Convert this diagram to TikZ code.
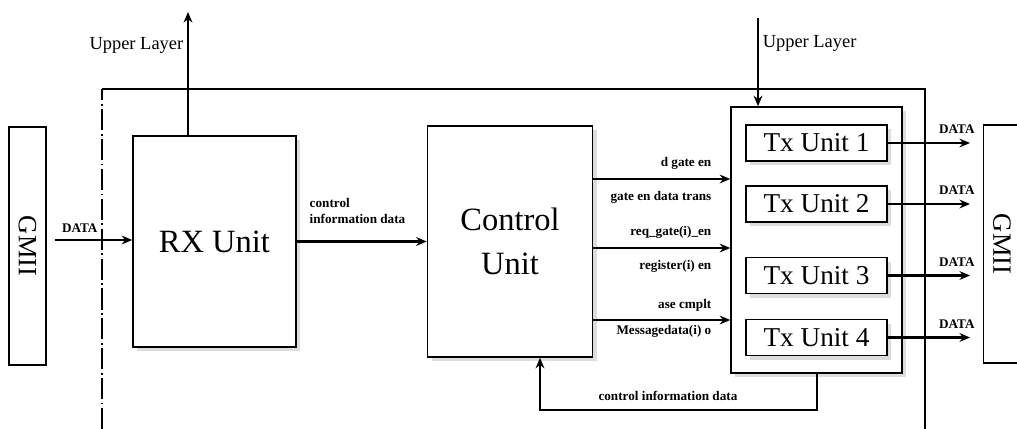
\documentclass[tikz,border=0pt]{standalone}
\usepackage{fontspec}
\setmainfont{Liberation Serif}
\usetikzlibrary{positioning,arrows.meta,shadows,calc}
\tikzset{
  unit box/.style={
    draw,
    line width=0.9pt,
    fill=white,
    drop shadow={shadow xshift=2.5pt, shadow yshift=-2.5pt, fill=gray!45, opacity=0.6}
  },
  big label/.style={
    align=center,
    font=\fontsize{18.5}{25}\selectfont
  },
  tx box/.style={
    unit box,
    minimum width=2.82cm,
    minimum height=0.72cm,
    inner sep=0pt,
    font=\fontsize{15.5}{17}\selectfont
  },
  gmii box/.style={
    draw,
    line width=0.9pt,
    rotate=-90,
    minimum width=4.76cm,
    minimum height=0.74cm,
    inner sep=0pt,
    font=\fontsize{15}{17}\selectfont
  },
  sig label/.style={
    font=\fontsize{7.5}{9}\selectfont\bfseries,
    inner sep=1.5pt
  },
  layer label/.style={
    font=\fontsize{10.5}{12}\selectfont,
    inner sep=2pt
  },
  arrow/.style={
    -{Stealth[length=6pt,width=5pt]},
    line width=1.4pt
  },
  frame line/.style={line width=0.6pt}
}

\begin{document}
\begin{tikzpicture}[x=0.02cm, y=-0.02cm]
  \useasboundingbox (0,0) rectangle (1017,429);

  % outer frame
  \draw[frame line, dash pattern=on 12pt off 2pt on 1pt off 2pt] (102,429) -- (102,89);
  \draw[frame line] (102,89) -- (925,89) -- (925,429);

  % GMII on both sides
  \node[gmii box] (gmiiL) at (27.5,246) {GMII};
  \node[gmii box] (gmiiR) at (1002,244) {GMII};

  % receive and control blocks
  \node[unit box, big label, minimum width=3.26cm, minimum height=4.22cm] (rx) at (214.5,241.5) {RX Unit};
  \node[unit box, big label, minimum width=3.3cm, minimum height=4.62cm] (ctrl) at (510,241.5) {Control\\Unit};

  % transmit blocks
  \node[unit box, minimum width=3.42cm, minimum height=5.32cm] (txall) at (816.5,240) {};
  \node[tx box] (tx1) at (816.5,143) {Tx Unit 1};
  \node[tx box] (tx2) at (816.5,204) {Tx Unit 2};
  \node[tx box] (tx3) at (816.5,275.5) {Tx Unit 3};
  \node[tx box] (tx4) at (816.5,337.5) {Tx Unit 4};

  % helper points
  \coordinate (upL) at (188,12);
  \coordinate (upR) at (758,18);
  \coordinate (dinL) at (55,240);
  \coordinate (dout) at (970,0);
  \coordinate (c1) at (0,179);
  \coordinate (c2) at (0,248);
  \coordinate (c3) at (0,320);
  \coordinate (fbR) at (817,410);
  \coordinate (fbL) at (540,410);

  % upper layer
  \draw[arrow] (rx.north -| upL) -- (upL) node[pos=0.73, left, layer label] {Upper Layer};
  \draw[arrow] (upR) -- (upR |- txall.north) node[pos=0.29, right, layer label] {Upper Layer};

  % data in
  \draw[arrow] (dinL) -- (dinL -| rx.west) node[pos=0.32, above, sig label, yshift=2pt] {DATA};

  % RX to control
  \draw[arrow] (rx.east) -- (ctrl.west)
    node[pos=0.07, above right, sig label, align=left, yshift=8pt] {control\\information data};

  % control to Tx
  \draw[arrow] (ctrl.east |- c1) -- (txall.west |- c1)
    node[pos=0.89, above left, sig label, yshift=3pt] {d gate en}
    node[pos=0.89, below left, sig label, yshift=-5pt] {gate en data trans};
  \draw[arrow] (ctrl.east |- c2) -- (txall.west |- c2)
    node[pos=0.89, above left, sig label, yshift=3pt] {req\_gate(i)\_en}
    node[pos=0.89, below left, sig label, yshift=-5pt] {register(i) en};
  \draw[arrow] (ctrl.east |- c3) -- (txall.west |- c3)
    node[pos=0.89, above left, sig label, yshift=3pt] {ase cmplt}
    node[pos=0.89, below left, sig label, yshift=-1pt] {Messagedata(i) o};

  % Tx to GMII
  \draw[arrow] (tx1.east) -- (tx1.east -| dout) node[pos=0.84, above, sig label, yshift=3pt] {DATA};
  \draw[arrow] (tx2.east) -- (tx2.east -| dout) node[pos=0.84, above, sig label, yshift=3pt] {DATA};
  \draw[arrow] (tx3.east) -- (tx3.east -| dout) node[pos=0.84, above, sig label, yshift=3pt] {DATA};
  \draw[arrow] (tx4.east) -- (tx4.east -| dout) node[pos=0.84, above, sig label, yshift=3pt] {DATA};

  % feedback to control
  \draw[arrow] (txall.south -| fbR) -- (fbR) -- (fbL)
    node[midway, above, sig label, xshift=-6pt, yshift=3pt] {control information data}
    -- (fbL |- ctrl.south);

\end{tikzpicture}
\end{document}
